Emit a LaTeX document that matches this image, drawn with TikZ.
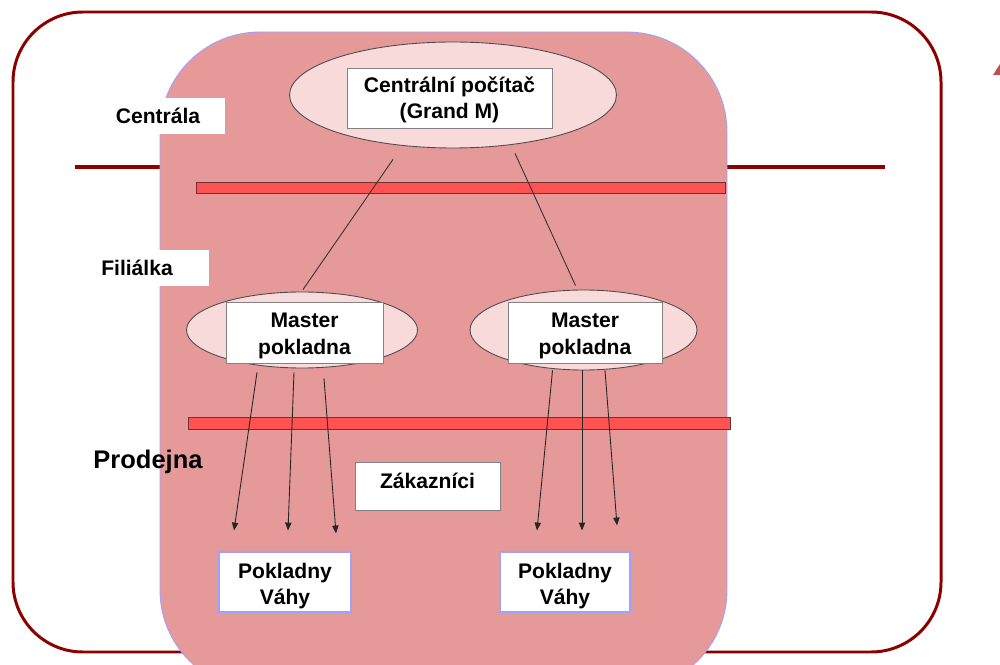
\documentclass[tikz,border=0pt]{standalone}
\usepackage{fontspec}
\setmainfont{Liberation Sans}
\usetikzlibrary{shapes.geometric,arrows.meta,calc}
\definecolor{outerred}{RGB}{140,0,0}
\definecolor{pinkfill}{RGB}{229,153,153}
\definecolor{pinkborder}{RGB}{160,160,255}
\definecolor{ellfill}{RGB}{249,218,219}
\definecolor{barfill}{RGB}{255,82,82}
\definecolor{bardraw}{RGB}{110,50,50}
\definecolor{boxgray}{RGB}{130,130,130}
\definecolor{titlered}{RGB}{192,80,77}
\tikzset{
  lbl/.style={font=\bfseries\fontsize{12}{15}\selectfont, align=center, inner sep=0pt},
  ell/.style={ellipse, draw=black!70, fill=ellfill, line width=0.5pt, inner sep=0pt},
  wbox/.style={rectangle, draw=boxgray, fill=white, line width=0.5pt, inner sep=0pt},
  bbox/.style={rectangle, draw=pinkborder, fill=white, line width=0.6pt, inner sep=0pt},
  plainbox/.style={rectangle, fill=white, inner sep=0pt},
  bar/.style={fill=barfill, draw=bardraw, line width=0.5pt},
  conn/.style={draw=black!80, line width=0.5pt},
  arr/.style={draw=black!85, line width=0.5pt, -{Triangle[length=4.5pt,width=3.6pt]}}
}
\begin{document}
\begin{tikzpicture}[x=0.02cm,y=-0.02cm]
\useasboundingbox (0,0) rectangle (1000,665);
% outer frame and divider
\draw[outerred, line width=1.7pt, rounded corners=1.4cm] (13,12) rectangle (941,652);
\draw[outerred, line width=2pt] (75,167) -- (885,167);
% pink region
\draw[pinkborder, fill=pinkfill, line width=0.5pt, rounded corners=2cm] (160,32) rectangle (727,690);
% partial title letter at edge
\fill[titlered] (993,75) -- (1000,64) -- (1000,75) -- cycle;
% bars
\path[bar] (196,182) rectangle (725,193);
\path[bar] (188,417) rectangle (730,429);
% level labels
\node[plainbox, minimum width=2.4cm, minimum height=0.72cm] (cbox) at (165,116) {};
\node[lbl] (centrala) at (158,116) {Centrála};
\node[plainbox, minimum width=2.3cm, minimum height=0.72cm] (fbox) at (152,268) {};
\node[lbl] (filialka) at (137,268) {Filiálka};
\node[font=\bfseries\fontsize{14.5}{17}\selectfont, inner sep=0pt] (prodejna) at (148,462) {Prodejna};
% central computer
\node[ell, minimum width=6.54cm, minimum height=2.12cm] (cen) at (453,95) {};
\node[wbox, minimum width=4.1cm, minimum height=1.2cm] (cenbox) at (449.5,98) {};
\node[lbl] (centxt) at (449.5,99.5) {Centrální počítač\\(Grand M)};
% masters
\node[ell, minimum width=4.62cm, minimum height=1.52cm] (mL) at (302,330) {};
\node[wbox, minimum width=3.14cm, minimum height=1.22cm] (mLbox) at (304.5,332.5) {};
\node[lbl] (mLtxt) at (304.5,336) {Master\\pokladna};
\node[ell, minimum width=4.54cm, minimum height=1.6cm] (mR) at (583.5,330) {};
\node[wbox, minimum width=3.08cm, minimum height=1.22cm] (mRbox) at (585,332.5) {};
\node[lbl] (mRtxt) at (585,336) {Master\\pokladna};
% customers
\node[wbox, minimum width=2.9cm, minimum height=0.96cm] (zbox) at (427.5,486) {};
\node[lbl] (ztxt) at (427.5,481) {Zákazníci};
% registers
\node[bbox, minimum width=2.64cm, minimum height=1.2cm] (pL) at (285,582) {};
\node[lbl] (pLtxt) at (285,586) {Pokladny\\Váhy};
\node[bbox, minimum width=2.6cm, minimum height=1.2cm] (pR) at (565,582) {};
\node[lbl] (pRtxt) at (565,586) {Pokladny\\Váhy};
% connectors central -> masters
\draw[conn] ($(cen.south)+(-60,11)$) -- ($(mL.north)+(1,-2)$);
\draw[conn] ($(cen.south)+(62,5)$) -- ($(mR.north)+(-8,-4)$);
% arrows masters -> registers
\draw[arr] ($(mL.south)+(-45,4)$) -- ($(pL.north)+(-51,-21)$);
\draw[arr] ($(mL.south)+(-8,4)$) -- ($(pL.north)+(3,-21)$);
\draw[arr] ($(mL.south)+(22,10)$) -- ($(pL.north)+(51,-18)$);
\draw[arr] ($(mR.south)+(-31,0)$) -- ($(pR.north)+(-28,-21)$);
\draw[arr] ($(mR.south)+(-1.5,0)$) -- ($(pR.north)+(17,-21)$);
\draw[arr] ($(mR.south)+(21.5,0)$) -- ($(pR.north)+(52,-26)$);
\end{tikzpicture}
\end{document}
